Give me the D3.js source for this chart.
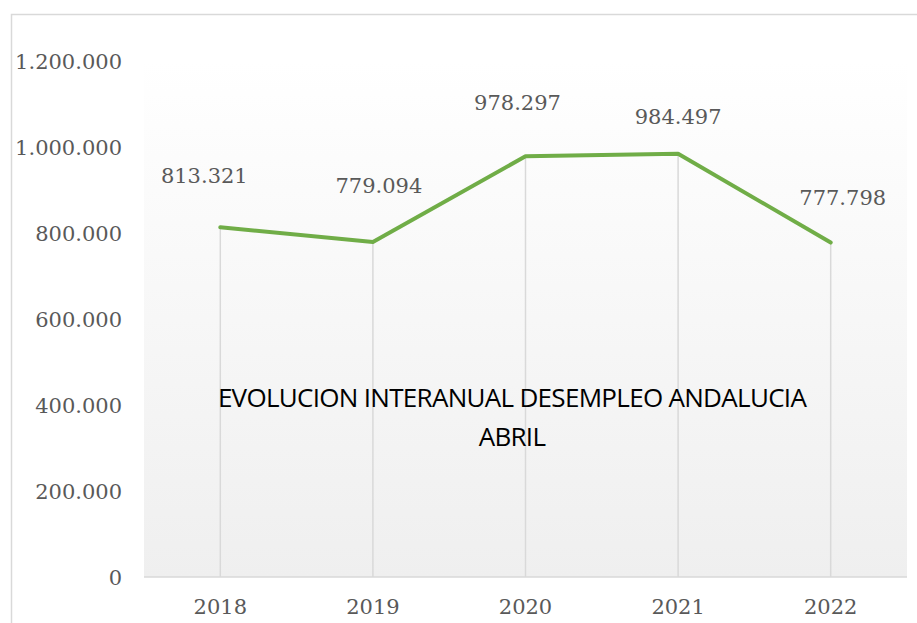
<!DOCTYPE html>
<html>
<head>
<meta charset="utf-8">
<script src="https://cdn.jsdelivr.net/npm/d3@7"></script>
<style>
  body { margin: 0; background: #fff; }
</style>
</head>
<body>
<script>
// data
var years = ['2018', '2019', '2020', '2021', '2022'];
var parados = [813321, 779094, 978297, 984497, 777798];
var yTicks = [0, 200000, 400000, 600000, 800000, 1000000, 1200000];
var titleLines = ['EVOLUCION INTERANUAL DESEMPLEO ANDALUCIA', 'ABRIL'];

// label nudges (px) relative to each point
var labelDx = [-16, 6, -8, 0, 12];
var labelDy = [-52, -56, -54, -37, -45];

var W = 917, H = 623;
var plot = { x0: 144, x1: 907, yTop: 61, yBot: 577 };

var fmt = function (v) {
    return d3.format(',')(v).replace(/,/g, '.');
};

var svg = d3.select('body')
        .append('svg')
        .attr('width', W)
        .attr('height', H);

var defs = svg.append('defs');
var grad = defs.append('linearGradient')
    .attr('id', 'plotBg')
    .attr('x1', 0).attr('y1', 0)
    .attr('x2', 0).attr('y2', 1);
grad.append('stop').attr('offset', '0%').attr('stop-color', '#ffffff');
grad.append('stop').attr('offset', '100%').attr('stop-color', '#efefef');

//outer frame (only top and left show)
svg.append('path')
    .attr('d', 'M11.5,' + H + 'V14.5H' + W)
    .style('fill', 'none')
    .style('stroke', '#d9d9d9')
    .style('stroke-width', 1.5);

var x = d3.scaleBand()
    .domain(years)
    .range([plot.x0, plot.x1]);

var y = d3.scaleLinear()
    .domain([0, 1200000])
    .range([plot.yBot, plot.yTop]);

//plot area background
svg.append('rect')
    .attr('x', plot.x0)
    .attr('y', plot.yTop)
    .attr('width', plot.x1 - plot.x0)
    .attr('height', plot.yBot - plot.yTop)
    .style('fill', 'url(#plotBg)');

var cx = function (d, i) { return x(years[i]) + x.bandwidth() / 2; };

//drop lines
svg.selectAll('.drop')
    .data(parados)
    .enter()
    .append('line')
    .attr('class', 'drop')
    .attr('x1', cx)
    .attr('x2', cx)
    .attr('y1', function (d) { return y(d); })
    .attr('y2', y(0))
    .style('stroke', '#d9d9d9')
    .style('stroke-width', 1.5);

//y axis labels
var yAxis = d3.axisLeft(y)
    .tickValues(yTicks)
    .tickFormat(fmt)
    .tickSize(0)
    .tickPadding(0);

var gy = svg.append('g')
    .attr('transform', 'translate(122,0)')
    .call(yAxis);
gy.select('.domain').remove();
gy.selectAll('text')
    .attr('dy', '0.35em')
    .style('font-family', '"DejaVu Serif", serif')
    .style('font-size', '21px')
    .style('fill', '#595959');

//x axis
var xAxis = d3.axisBottom(x).tickSize(0).tickPadding(0);
var gx = svg.append('g')
    .attr('transform', 'translate(0,' + y(0) + ')')
    .call(xAxis);
gx.select('.domain').remove();
gx.selectAll('text')
    .attr('y', 30)
    .attr('dy', '0.35em')
    .style('font-family', '"DejaVu Serif", serif')
    .style('font-size', '21px')
    .style('fill', '#595959');

svg.append('line')
    .attr('x1', plot.x0)
    .attr('x2', plot.x1)
    .attr('y1', y(0))
    .attr('y2', y(0))
    .style('stroke', '#d9d9d9')
    .style('stroke-width', 1.5);

//series line
var line = d3.line()
    .x(function (d, i) { return cx(d, i); })
    .y(function (d) { return y(d); });

svg.append('path')
    .datum(parados)
    .attr('d', line)
    .style('fill', 'none')
    .style('stroke', '#70ad47')
    .style('stroke-width', 4)
    .style('stroke-linecap', 'round')
    .style('stroke-linejoin', 'round');

//data labels
svg.selectAll('.lbl')
    .data(parados)
    .enter()
    .append('text')
    .attr('class', 'lbl')
    .attr('x', function (d, i) { return cx(d, i) + labelDx[i]; })
    .attr('y', function (d, i) { return y(d) + labelDy[i]; })
    .attr('dy', '0.35em')
    .attr('text-anchor', 'middle')
    .text(fmt)
    .style('font-family', '"DejaVu Serif", serif')
    .style('font-size', '21px')
    .style('fill', '#595959');

//title inside the plot
svg.selectAll('.title')
    .data(titleLines)
    .enter()
    .append('text')
    .attr('class', 'title')
    .attr('x', 512)
    .attr('y', function (d, i) { return 398 + i * 39; })
    .attr('dy', '0.35em')
    .attr('text-anchor', 'middle')
    .text(function (d) { return d; })
    .style('font-family', '"Open Sans", sans-serif')
    .style('font-size', '26px')
    .style('letter-spacing', '-0.7px')
    .style('fill', '#000');
</script>
</body>
</html>
